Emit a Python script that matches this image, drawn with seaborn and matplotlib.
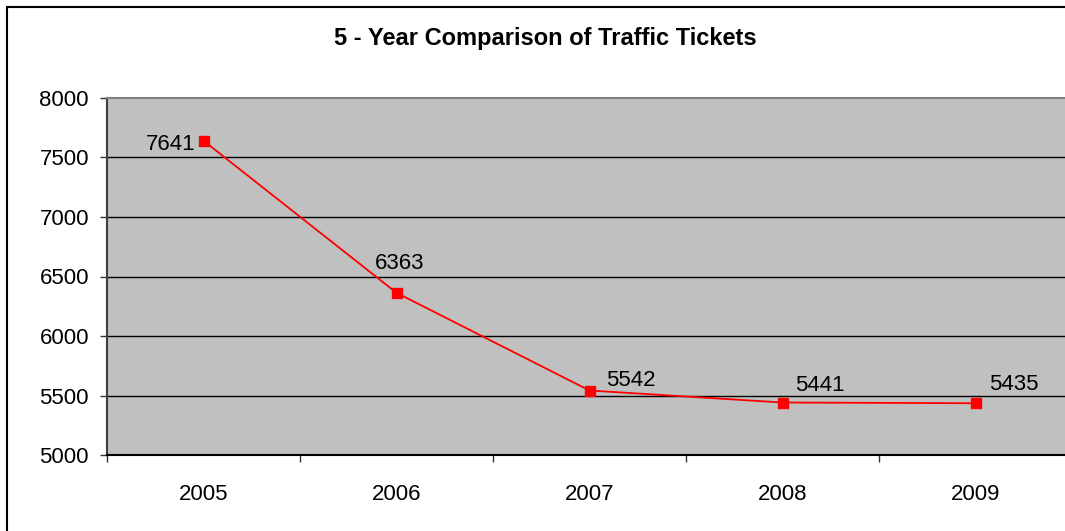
import matplotlib
matplotlib.use("Agg")
import matplotlib.pyplot as plt
import matplotlib.patches as mpatches
from matplotlib.ticker import FixedLocator
import seaborn as sns

# ─── Data ─────────────────────────────────────────────────────────────────────
YEARS   = ["2005", "2006", "2007", "2008", "2009"]
TICKETS = [7641, 6363, 5542, 5441, 5435]
Y_TICKS = [5000, 5500, 6000, 6500, 7000, 7500, 8000]

# label offsets in pixels (dx, dy, ha)
LABEL_POS = [(-8, -4, "right"), (3, 29, "center"), (17, 10, "left"),
             (13, 17, "left"), (14, 19, "left")]

sns.set_theme(style="white")
plt.rcParams["font.family"] = ["Liberation Sans", "DejaVu Sans"]
plt.rcParams["text.color"] = "black"
plt.rcParams["xtick.labelcolor"] = "black"
plt.rcParams["ytick.labelcolor"] = "black"

W, H = 1065, 531
fig = plt.figure(figsize=(W / 100, H / 100), dpi=100)
fig.patch.set_facecolor("white")

# outer chart border (cropped at right/bottom)
fig.patches.append(mpatches.Rectangle((7 / W, -0.1), 1.2, 1 - 7 / H + 0.1,
                                      transform=fig.transFigure, fill=False,
                                      edgecolor="black", linewidth=1.5))

ax = fig.add_axes([107 / W, 76 / H, 965 / W, 357 / H])
ax.set_facecolor("#C0C0C0")

sns.pointplot(x=YEARS, y=TICKETS, color="red", markers="s", linestyles="-",
              linewidth=1.3, markersize=7.5, ax=ax)

ax.set_xlim(-0.5, len(YEARS) - 0.5)
ax.set_ylim(Y_TICKS[0], Y_TICKS[-1])
ax.set_yticks(Y_TICKS)
ax.set_yticklabels([str(v) for v in Y_TICKS], fontsize=16)
for v in Y_TICKS[1:-1]:
    ax.axhline(v, color="black", linewidth=1, zorder=0.5)

ax.set_xticks(range(len(YEARS)))
ax.set_xticklabels(YEARS, fontsize=16)
ax.xaxis.set_minor_locator(FixedLocator([i - 0.5 for i in range(len(YEARS) + 1)]))
ax.tick_params(axis="x", which="major", length=0, pad=21)
ax.tick_params(axis="x", which="minor", length=5, width=1, color="#333333",
               direction="out", bottom=True)
ax.tick_params(axis="y", length=5, width=1, color="#333333", direction="out",
               left=True, pad=8)

ax.set_xlabel("")
ax.set_ylabel("")

for side in ["top", "right"]:
    ax.spines[side].set_color("#808080")
    ax.spines[side].set_linewidth(1.5)
ax.spines["left"].set_color("#404040")
ax.spines["left"].set_linewidth(1.5)
ax.spines["bottom"].set_color("black")
ax.spines["bottom"].set_linewidth(1.5)

for i, (val, (dx, dy, ha)) in enumerate(zip(TICKETS, LABEL_POS)):
    ax.annotate(str(val), (i, val), xytext=(dx, dy), textcoords="offset pixels",
                ha=ha, va="center", fontsize=16, color="black")

fig.text(545 / W, 1 - 38 / H, "5 - Year Comparison of Traffic Tickets",
         ha="center", va="center", fontsize=17, fontweight="bold",
         color="black")

fig.savefig("out.png", dpi=100)
plt.close(fig)
